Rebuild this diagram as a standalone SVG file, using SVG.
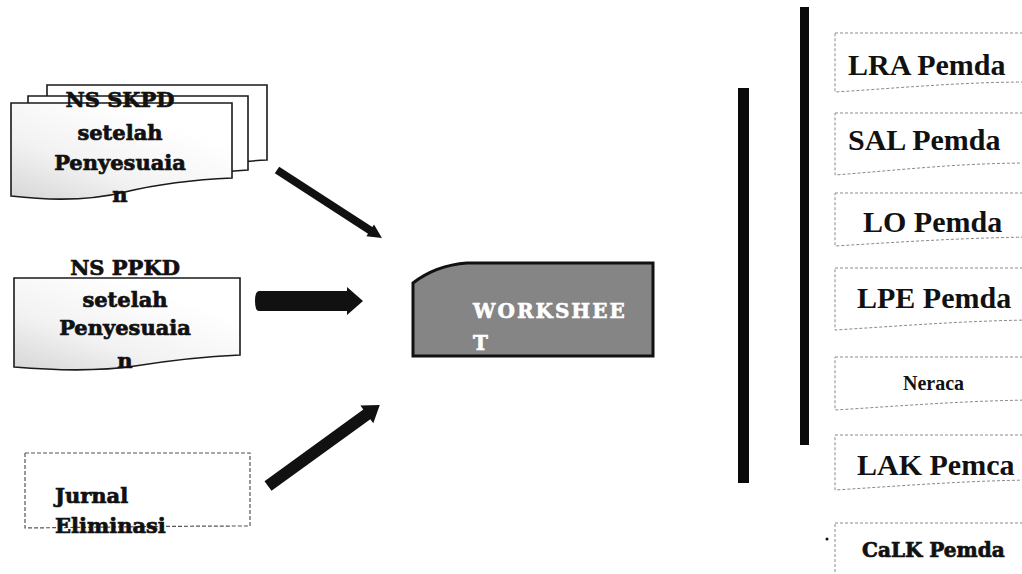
<svg xmlns="http://www.w3.org/2000/svg" width="1022" height="574" viewBox="0 0 1022 574">
<defs>
<style>
.doc{fill:url(#shade);stroke:#1a1a1a;stroke-width:1.6}
.docb{fill:#fff;stroke:#1a1a1a;stroke-width:1.6}
.out{fill:#fff;stroke:#8a8a8a;stroke-width:1;stroke-dasharray:3 2}
.slab{font-family:"DejaVu Serif",serif;font-weight:bold;font-size:21px;fill:#111;stroke:#111;stroke-width:0.7}
.tnr{font-family:"Liberation Serif","Times New Roman",serif;font-weight:bold;font-size:30px;fill:#111}
.arr{fill:#111}
.bar{fill:#0a0a0a}
</style>
<linearGradient id="shade" x1="0" y1="1" x2="0.7" y2="0.2">
<stop offset="0" stop-color="#d6d6d6"/>
<stop offset="0.45" stop-color="#f2f2f2"/>
<stop offset="1" stop-color="#ffffff"/>
</linearGradient>
</defs>

<g id="node-ns-skpd">
<path class="docb" d="M47,85 H267 V160 C230,162 200,166 180,168 H47 Z"/>
<path class="docb" d="M28,96 H248 V170 C215,172 185,176 160,180 H28 Z"/>
<path class="doc" d="M11,103 H232 V178 C185,180 150,186 125,192 C85,202 45,200 11,196 Z"/>
<text class="slab" x="120" y="107" text-anchor="middle">NS SKPD</text>
<text class="slab" x="120" y="140" text-anchor="middle">setelah</text>
<text class="slab" x="120" y="170" text-anchor="middle">Penyesuaia</text>
<text class="slab" x="120" y="202" text-anchor="middle">n</text>
</g>

<g id="node-ns-ppkd">
<path class="doc" d="M14,278 H240 V355 C195,357 160,362 135,366 C95,372 50,370 14,367 Z"/>
<text class="slab" x="125" y="275" text-anchor="middle">NS PPKD</text>
<text class="slab" x="125" y="307" text-anchor="middle">setelah</text>
<text class="slab" x="125" y="335" text-anchor="middle">Penyesuaia</text>
<text class="slab" x="125" y="368" text-anchor="middle">n</text>
</g>

<g id="node-jurnal">
<path d="M25,453 H250 V526 C180,526 120,527 25,528 Z" fill="#fff" stroke="#555" stroke-width="1.2" stroke-dasharray="4 2"/>
<text class="slab" x="55" y="503">Jurnal</text>
<text class="slab" x="55" y="533">Eliminasi</text>
</g>

<g id="node-worksheet">
<path d="M413,283 C422,276 440,265 467,263 H653 V356 H413 Z" fill="#858585" stroke="#111" stroke-width="3"/>
<text x="473" y="318" font-family="DejaVu Serif, serif" font-weight="bold" font-size="20" letter-spacing="2" fill="#fff" stroke="#fff" stroke-width="0.6">WORKSHEE</text>
<text x="473" y="350" font-family="DejaVu Serif, serif" font-weight="bold" font-size="20" fill="#fff" stroke="#fff" stroke-width="0.6">T</text>
</g>

<g id="connectors">
<polygon class="arr" transform="translate(277,170) rotate(32.9)" points="0,-4 111,-4 111,-7 125,0 111,7 111,4 0,4"/>
<path class="arr" d="M259,291 H347 V287 L363,301 L347,315 V311 H259 Q255,311 255,301 Q255,291 259,291 Z"/>
<polygon class="arr" transform="translate(268,486) rotate(-35.9)" points="0,-6 122,-6 122,-11 138,0 122,11 122,6 0,6"/>
</g>

<g id="bars">
<rect class="bar" x="738" y="88" width="11" height="395"/>
<rect class="bar" x="800" y="7" width="9" height="438"/>
</g>

<g id="node-lra">
<path class="out" d="M835,33 H1030 V82 C960,82 900,88 835,92 Z"/>
<text class="tnr" x="848" y="75">LRA Pemda</text>
</g>
<g id="node-sal">
<path class="out" d="M835,113 H1030 V163 C960,163 900,170 835,175 Z"/>
<text class="tnr" x="848" y="150">SAL Pemda</text>
</g>
<g id="node-lo">
<path class="out" d="M835,193 H1030 V237 C960,238 900,242 835,246 Z"/>
<text class="tnr" x="863" y="232">LO Pemda</text>
</g>
<g id="node-lpe">
<path class="out" d="M835,268 H1030 V320 C960,321 900,326 835,330 Z"/>
<text class="tnr" x="857" y="308">LPE Pemda</text>
</g>
<g id="node-neraca">
<path class="out" d="M835,357 H1030 V400 C960,401 900,406 835,410 Z"/>
<text x="903" y="390" font-family="Liberation Serif, serif" font-weight="bold" font-size="20" fill="#111">Neraca</text>
</g>
<g id="node-lak">
<path class="out" d="M835,435 H1030 V480 C960,481 900,486 835,490 Z"/>
<text class="tnr" x="857" y="475">LAK Pemca</text>
</g>
<g id="node-calk">
<path class="out" d="M835,523 H1030 V580 H835 Z"/>
<text class="slab" x="862" y="557" style="font-size:20px">CaLK Pemda</text>
</g>
<circle cx="827" cy="539" r="1.5" fill="#111"/>
</svg>
